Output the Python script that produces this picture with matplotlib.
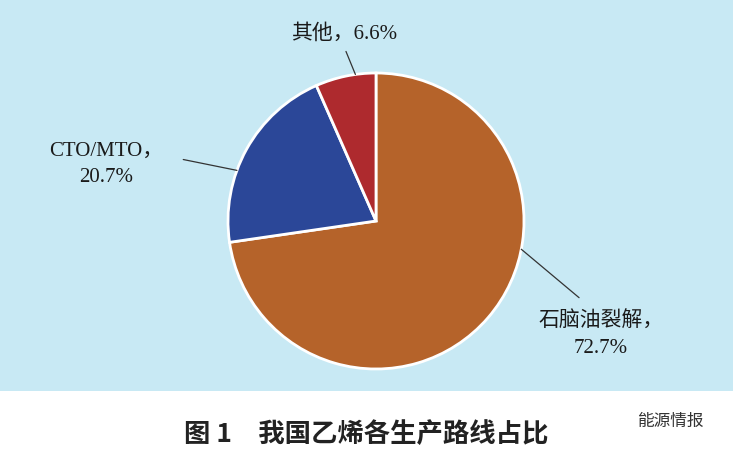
import numpy as np
import matplotlib.pyplot as plt
from matplotlib.patches import Rectangle

labels = ['石脑油裂解，\n72.7%', 'CTO/MTO，\n20.7%', '其他，6.6%']
shares = [72.7, 20.7, 6.6]
colors = ['#B5632A', '#2B4798', '#AE2A2E']
caption = '图 1　我国乙烯各生产路线占比'

fam = ['Liberation Serif', 'Noto Sans CJK SC']

fig = plt.figure(figsize=(7.33, 4.56), dpi=100)
fig.patch.set_facecolor('#C8E9F4')
fig.patches.append(Rectangle((0, 0), 1, 1 - 392 / 456, transform=fig.transFigure,
                             facecolor='white', zorder=0))

r = 148
ax = fig.add_axes([(376 - r) / 733, 1 - (222 + r) / 456, 2 * r / 733, 2 * r / 456])
wedges, _ = ax.pie(shares, colors=colors, startangle=90, counterclock=False,
                   wedgeprops=dict(edgecolor='white', linewidth=2))
ax.set_xlim(-1, 1)
ax.set_ylim(-1, 1)
ax.set_facecolor('none')

# label text position, line start (figure fraction), line end angle on pie
label_cfg = [((0.82, 0.265), (0.79, 0.345), -11),
             ((0.145, 0.64), (0.25, 0.648), 160),
             ((0.47, 0.925), (0.472, 0.885), 98)]
for lab, (pos, tx, deg) in zip(labels, label_cfg):
    ang = np.deg2rad(deg)
    ax.annotate('', xy=(np.cos(ang), np.sin(ang)), xytext=tx,
                textcoords='figure fraction',
                arrowprops=dict(arrowstyle='-', color='#333333', lw=0.9,
                                shrinkA=0, shrinkB=0))
    fig.text(pos[0], pos[1], lab, ha='center', va='center', fontsize=15,
             family=fam, color='#1a1a1a', linespacing=1.5)

fig.text(0.5, 0.048, caption, ha='center', va='center', fontsize=19,
         family=['Noto Sans CJK SC'], fontweight='bold', color='#222222')
fig.text(0.915, 0.075, '能源情报', ha='center', va='center', fontsize=12,
         family=['Noto Sans CJK SC'], color='#333333')

fig.savefig('out.png', dpi=100, facecolor=fig.get_facecolor())
